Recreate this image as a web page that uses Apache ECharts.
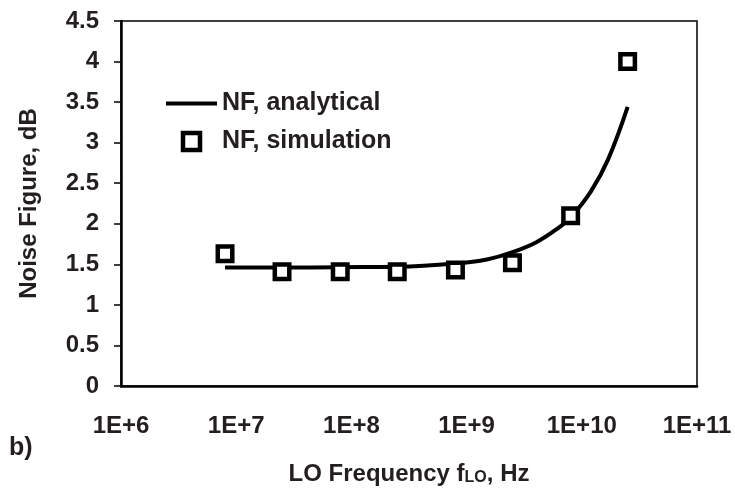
<!DOCTYPE html>
<html>
<head>
<meta charset="utf-8">
<script src="https://cdn.jsdelivr.net/npm/echarts@6/dist/echarts.min.js"></script>
<style>html,body{margin:0;padding:0;background:#fff;}#c{width:735px;height:491px;}</style>
</head>
<body>
<div id="c"></div>
<script>
// Simulation points (LO frequency in Hz, NF in dB)
var simFreq = [8e6, 2.5e7, 8e7, 2.5e8, 8e8, 2.5e9, 8e9, 2.5e10];
var simNF   = [1.63, 1.41, 1.41, 1.41, 1.43, 1.52, 2.10, 4.00];
// Analytical curve
var anaFreq = [8e6, 2.5e7, 8e7, 2.5e8, 8e8, 1.5e9, 2.5e9, 4e9, 6e9, 8e9, 1.2e10, 1.7e10, 2.5e10];
var anaNF   = [1.46, 1.46, 1.465, 1.47, 1.51, 1.56, 1.65, 1.77, 1.93, 2.08, 2.40, 2.80, 3.44];
// Axis ticks
var xExponents = [6, 7, 8, 9, 10, 11];
var yTicks = [0, 0.5, 1, 1.5, 2, 2.5, 3, 3.5, 4, 4.5];

var FONT = '"Liberation Sans", Arial, sans-serif';
var TXT = '#231f20';

function pairs(xs, ys) { return xs.map(function (x, i) { return [x, ys[i]]; }); }

var chart = echarts.init(document.getElementById('c'), null, { renderer: 'canvas' });
chart.setOption({
  animation: false,
  backgroundColor: '#fff',
  textStyle: { fontFamily: FONT },
  grid: { left: 121, right: 38, top: 21, bottom: 104, show: true, borderColor: '#000', borderWidth: 1.5, backgroundColor: 'transparent' },
  legend: {
    orient: 'vertical', left: 161, top: 86,
    itemWidth: 51, itemHeight: 17, itemGap: 13,
    textStyle: { fontFamily: FONT, fontSize: 25, fontWeight: 'bold', color: TXT },
    data: [
      { name: 'NF, analytical', icon: 'path://M0,0H51V4H0Z', itemStyle: { color: '#000', borderWidth: 0 } },
      { name: 'NF, simulation', icon: 'path://M0,0H10V10H0Z', itemStyle: { color: '#fff', borderColor: '#000', borderWidth: 4.5 } }
    ]
  },
  xAxis: {
    type: 'log', logBase: 10,
    min: Math.pow(10, xExponents[0]), max: Math.pow(10, xExponents[xExponents.length - 1]),
    splitLine: { show: false },
    axisTick: { show: false },
    axisLine: { lineStyle: { color: '#000', width: 2.5 } },
    axisLabel: {
      margin: 28, fontSize: 24, fontWeight: 'bold', color: TXT, fontFamily: FONT,
      formatter: function (v) { return '1E+' + Math.round(Math.log10(v)); }
    },
    name: '{m|LO Frequency f}{s|LO}{m|, Hz}',
    nameLocation: 'middle', nameGap: 72,
    nameTextStyle: {
      rich: {
        m: { fontSize: 24, fontWeight: 'bold', color: TXT, fontFamily: FONT, verticalAlign: 'bottom', lineHeight: 28 },
        s: { fontSize: 16, fontWeight: 'bold', color: TXT, fontFamily: FONT, verticalAlign: 'bottom', lineHeight: 20 }
      }
    }
  },
  yAxis: {
    type: 'value', min: yTicks[0], max: yTicks[yTicks.length - 1], interval: 0.5,
    splitLine: { show: false },
    axisLine: { show: true, lineStyle: { color: '#000', width: 2.5 } },
    axisTick: { show: true, length: 7, lineStyle: { color: '#000', width: 1.5 } },
    axisLabel: { margin: 22, fontSize: 24, fontWeight: 'bold', color: TXT, fontFamily: FONT },
    name: 'Noise Figure, dB', nameLocation: 'middle', nameGap: 80, nameRotate: 90,
    nameTextStyle: { fontSize: 24, fontWeight: 'bold', color: TXT, fontFamily: FONT }
  },
  series: [
    {
      name: 'NF, analytical', type: 'line', data: pairs(anaFreq, anaNF),
      symbol: 'none', smooth: 0.4,
      lineStyle: { color: '#000', width: 4 }, itemStyle: { color: '#000' }, z: 2
    },
    {
      name: 'NF, simulation', type: 'scatter', data: pairs(simFreq, simNF),
      symbol: 'rect', symbolSize: 14.5,
      itemStyle: { color: '#fff', borderColor: '#000', borderWidth: 4.5, opacity: 1 }, z: 3
    }
  ],
  graphic: [
    { type: 'text', left: 9, top: 436, style: { text: 'b)', font: 'bold 25px ' + FONT, fill: TXT } }
  ]
});
</script>
</body>
</html>
